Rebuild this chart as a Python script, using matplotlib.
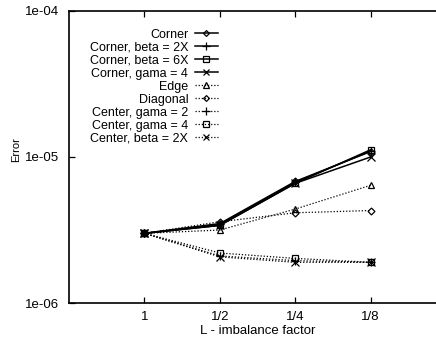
import matplotlib
matplotlib.use("Agg")
import matplotlib.pyplot as plt
from matplotlib.legend_handler import HandlerLine2D
import numpy as np

categories = ["1", "1/2", "1/4", "1/8"]
labels = ["Corner", "Corner, beta = 2X", "Corner, beta = 6X", "Corner, gama = 4",
          "Edge", "Diagonal", "Center, gama = 2", "Center, gama = 4", "Center, beta = 2X"]
corner = [3.0e-6, 3.5e-6, 6.8e-6, 1.09e-5]
corner_beta2x = [3.0e-6, 3.45e-6, 6.7e-6, 1.1e-5]
corner_beta6x = [3.0e-6, 3.4e-6, 6.6e-6, 1.12e-5]
corner_gama4 = [3.0e-6, 3.4e-6, 6.6e-6, 1.0e-5]
edge = [3.0e-6, 3.16e-6, 4.4e-6, 6.4e-6]
diagonal = [3.0e-6, 3.6e-6, 4.15e-6, 4.3e-6]
center_gama2 = [3.0e-6, 2.1e-6, 1.95e-6, 1.9e-6]
center_gama4 = [3.0e-6, 2.2e-6, 2.02e-6, 1.9e-6]
center_beta2x = [3.0e-6, 2.07e-6, 1.9e-6, 1.9e-6]
series = [corner, corner_beta2x, corner_beta6x, corner_gama4,
          edge, diagonal, center_gama2, center_gama4, center_beta2x]

markers = ["D", "+", "s", "x", "^", "D", "+", "s", "x"]
msizes = [3.5, 6, 4.5, 5.5, 4.5, 3.5, 6, 4.5, 5.5]
styles = ["-"] * 4 + [(0, (1, 1.5))] * 5


class LeftMarkerHandler(HandlerLine2D):
    def get_xdata(self, legend, xdescent, ydescent, width, height, fontsize):
        xdata = np.array([-xdescent, -xdescent + width])
        xdata_marker = np.array([-xdescent + 0.3 * width])
        return xdata, xdata_marker


plt.rcParams['font.family'] = ['Liberation Sans', 'DejaVu Sans']
fig = plt.figure(figsize=(4.36, 3.39), dpi=100)
W, H = 436, 339
ax = fig.add_axes([69 / W, (H - 303) / H, (446 - 69) / W, (303 - 11) / H])

xs = list(range(1, len(categories) + 1))
for ys, lab, m, ms, ls in zip(series, labels, markers, msizes, styles):
    lw = 1.1 if ls == "-" else 0.9
    ax.plot(xs, ys, color="black", linestyle=ls, linewidth=lw, marker=m,
            markersize=ms, markerfacecolor="none", markeredgecolor="black",
            markeredgewidth=0.9, label=lab)

ax.set_yscale("log")
ax.set_ylim(1e-6, 1e-4)
ax.set_xlim(0, 5)
ax.set_xticks(xs)
ax.set_xticklabels(categories)
ax.set_yticks([1e-6, 1e-5, 1e-4])
ax.set_yticklabels(["1e-06", "1e-05", "1e-04"])
ax.yaxis.set_minor_locator(matplotlib.ticker.NullLocator())
ax.tick_params(axis="both", which="major", direction="in", length=4, width=0.9,
               top=True, right=True, labelsize=9.5)
ax.tick_params(axis="y", pad=7)
ax.tick_params(axis="x", pad=6)
for s in ["left", "bottom", "top"]:
    ax.spines[s].set_linewidth(1.2)
ax.spines["right"].set_visible(False)

ax.set_xlabel("L - imbalance factor", fontsize=9.5, labelpad=1.5)
fig.text(16 / W, 1 - 150 / H, "Error", rotation=90, ha="center", va="center",
         fontsize=8)

handler = LeftMarkerHandler()
leg = ax.legend(loc="upper left", bbox_to_anchor=(0.032, 0.97), frameon=False,
                markerfirst=False, fontsize=9, handlelength=1.9,
                handletextpad=0.5, labelspacing=0.08, borderaxespad=0.3,
                handler_map={ln: handler for ln in ax.get_lines()})
for h in leg.legend_handles:
    h.set_markersize(h.get_markersize() * 0.85)

fig.savefig("out.png", dpi=100)
